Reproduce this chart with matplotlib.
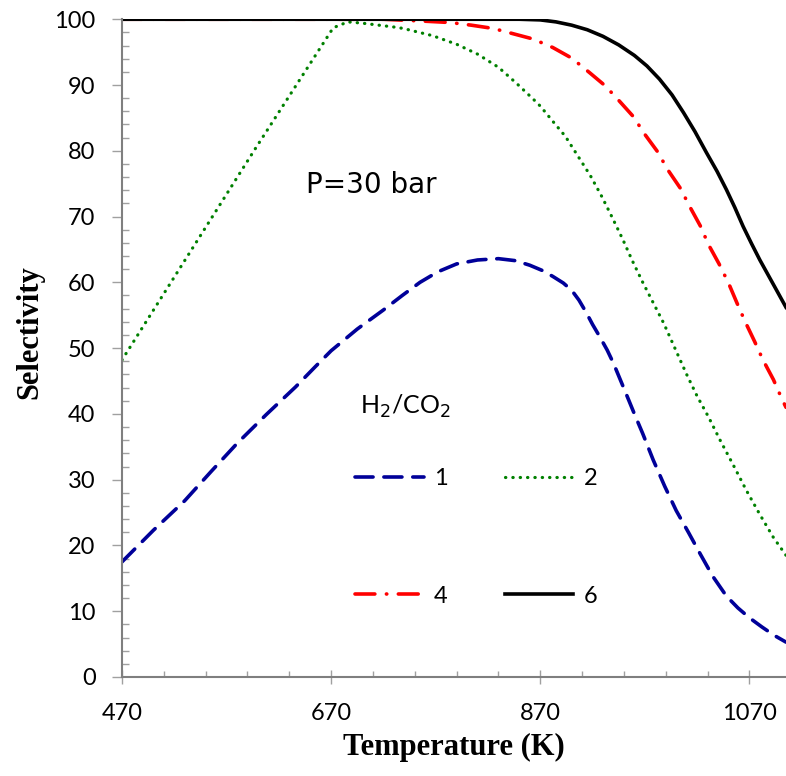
import numpy as np
import matplotlib
matplotlib.use("Agg")
import matplotlib.pyplot as plt
from matplotlib.ticker import MultipleLocator, FixedLocator

# data (temperature K, selectivity)
t1 = [470, 500, 530, 555, 580, 608, 636, 655, 670, 695, 720, 738, 755, 772,
      790, 810, 830, 846, 860, 872, 882, 892, 900, 907, 914, 920, 927, 934,
      940, 946, 952, 960, 968, 978, 989, 1000, 1012, 1023, 1035, 1048, 1059,
      1070, 1082, 1094, 1105]
s1 = [17.5, 22.3, 26.8, 31.2, 35.5, 39.9, 44.1, 47.2, 49.6, 52.9, 55.8, 58.0,
      60.0, 61.6, 62.8, 63.4, 63.6, 63.3, 62.6, 61.8, 60.9, 59.9, 58.8, 57.3,
      55.4, 53.6, 51.7, 49.7, 47.7, 45.4, 43.1, 40.0, 37.0, 33.0, 29.0, 25.3,
      21.9, 18.7, 15.3, 12.3, 10.5, 9.0, 7.6, 6.3, 5.3]

t2 = [470, 597, 672, 686, 700, 731, 739, 767, 790, 810, 830, 847, 863, 870,
      884, 894, 906, 918, 929, 939, 949, 958, 968, 978, 988, 999, 1010, 1020,
      1031, 1042, 1055, 1067, 1080, 1093, 1105]
s2 = [48.2, 80.2, 98.7, 99.6, 99.4, 98.8, 98.6, 97.5, 96.2, 94.7, 92.7, 90.3,
      87.9, 86.8, 84.1, 82.2, 79.2, 76.2, 73.0, 69.8, 66.5, 63.3, 60.0, 56.9,
      53.8, 49.9, 46.0, 42.7, 39.5, 36.0, 32.1, 28.4, 24.7, 21.2, 18.5]

t4 = [470, 720, 760, 784, 804, 825, 844, 863, 882, 900, 917, 932, 946, 959,
      970, 982, 992, 1004, 1013, 1023, 1031, 1041, 1050, 1058, 1066, 1075,
      1083, 1093, 1101, 1105]
s4 = [100, 100, 99.7, 99.5, 99.1, 98.6, 97.8, 97.0, 95.7, 94.1, 91.9, 89.9,
      87.5, 85.2, 82.5, 79.9, 77.1, 74.3, 71.5, 68.6, 65.7, 62.8, 59.9, 56.9,
      54.0, 51.0, 48.2, 45.2, 42.3, 41.0]

t6 = [470, 850, 870, 885, 900, 915, 930, 945, 960, 972, 984, 996, 1007, 1018,
      1029, 1039, 1048, 1056, 1064, 1072, 1080, 1088, 1096, 1105]
s6 = [100, 100, 99.9, 99.6, 99.1, 98.4, 97.4, 96.1, 94.5, 92.9, 90.9, 88.5,
      85.8, 82.9, 79.7, 76.9, 74.1, 71.4, 68.5, 65.9, 63.4, 61.1, 58.8, 56.2]

labels = ["1", "2", "4", "6"]

fig = plt.figure(figsize=(7.86, 7.76), dpi=100)
ax = fig.add_axes([0.1552, 0.1276, 0.8448, 0.8476])

l1, = ax.plot(t1, s1, color="#000099", lw=2.6, dashes=(5, 3),
              dash_capstyle="round", label=labels[0])
l2, = ax.plot(t2, s2, color="#008000", lw=2.3, dashes=(0.1, 2.2),
              dash_capstyle="round", label=labels[1])
l4, = ax.plot(t4, s4, color="#ff0000", lw=2.6, dashes=(5.5, 3.2, 0.1, 3.2),
              dash_capstyle="round", label=labels[2])
l6, = ax.plot(t6, s6, color="black", lw=2.6, label=labels[3])

ax.set_xlim(470, 1105)
ax.set_ylim(0, 100)

for side in ["top", "right"]:
    ax.spines[side].set_visible(False)
for side in ["left", "bottom"]:
    ax.spines[side].set_color("#7f7f7f")
    ax.spines[side].set_linewidth(1.5)

ax.xaxis.set_major_locator(FixedLocator([470, 670, 870, 1070]))
ax.xaxis.set_minor_locator(FixedLocator(np.arange(470, 1105, 40)))
ax.yaxis.set_major_locator(MultipleLocator(10))
ax.yaxis.set_minor_locator(MultipleLocator(2))

tick_font = "Lato"
ax.tick_params(axis="x", which="major", direction="inout", length=10,
               color="#a0a0a0", width=1, pad=14, labelsize=17)
ax.tick_params(axis="x", which="minor", direction="in", length=4,
               color="#a0a0a0", width=1)
ax.tick_params(axis="y", which="major", direction="out", length=7,
               color="#a0a0a0", width=1, pad=12, labelsize=17)
ax.tick_params(axis="y", which="minor", direction="in", length=5,
               color="#a0a0a0", width=1)
for lab in ax.get_xticklabels() + ax.get_yticklabels():
    lab.set_fontfamily(tick_font)

ax.set_xlabel("Temperature (K)", fontsize=22, fontweight="bold",
              family="Liberation Serif", labelpad=6)
ax.set_ylabel("Selectivity", fontsize=22, fontweight="bold",
              family="Liberation Serif")
ax.yaxis.set_label_coords(-0.117, 0.524)

ax.text(646, 74.8, "P=30 bar", fontsize=20, family="DejaVu Sans",
        va="center", ha="left")

ax.text(0.358, 0.412, "H$_2$/CO$_2$", transform=ax.transAxes, fontsize=18,
        family=tick_font, va="center", ha="left")

leg = ax.legend(handles=[l1, l4, l2, l6], ncol=2, frameon=False,
                loc="upper left", bbox_to_anchor=(0.351, 0.318),
                borderaxespad=0, borderpad=0,
                handlelength=2.9, handletextpad=0.45, columnspacing=2.4,
                labelspacing=4.1, prop={"family": tick_font, "size": 17})

fig.savefig("out.png", dpi=100)
